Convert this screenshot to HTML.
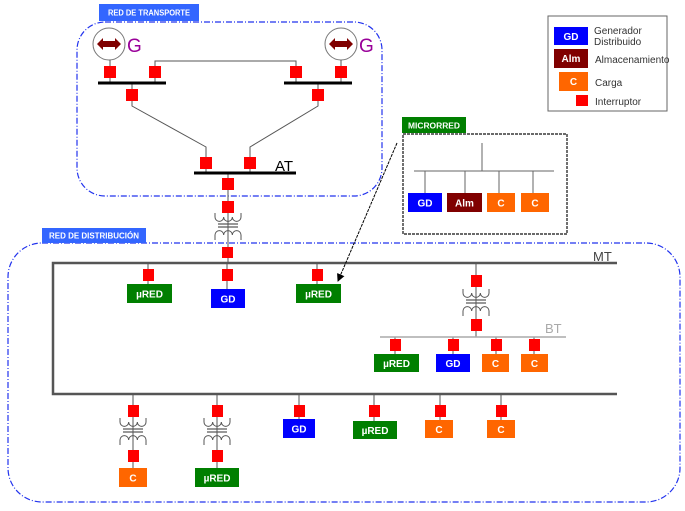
<!DOCTYPE html>
<html><head><meta charset="utf-8"><style>
html,body{margin:0;padding:0;background:#fff;}
svg{display:block;}
text{font-family:"Liberation Sans",sans-serif;}
.bx{font-size:10px;fill:#fff;text-anchor:middle;font-weight:bold;}
.lb{font-size:8px;fill:#fff;font-weight:bold;}
.lg{font-size:10px;fill:#333;}
</style></head><body>
<svg width="685" height="511" viewBox="0 0 685 511" xmlns="http://www.w3.org/2000/svg">
<defs>
<g id="tr" fill="none" stroke="#555" stroke-width="1">
  <path d="M-13,0 v4 a4.33,4.33 0 0 0 8.67,0 a4.33,4.33 0 0 0 8.67,0 a4.33,4.33 0 0 0 8.67,0 v-4"/>
  <line x1="-10" y1="11" x2="10" y2="11" stroke="#777" stroke-width="1.5"/>
  <line x1="-10" y1="14" x2="10" y2="14" stroke="#777" stroke-width="1.5"/>
  <path d="M-13,27 v-5 a4.33,4.33 0 0 1 8.67,0 a4.33,4.33 0 0 1 8.67,0 a4.33,4.33 0 0 1 8.67,0 v5"/>
  <line x1="0" y1="0" x2="0" y2="27"/>
</g>
<marker id="ar" markerWidth="8" markerHeight="8" refX="7" refY="4" orient="auto"><path d="M0,0 L8,4 L0,8 z" fill="#000"/></marker>
</defs>

<!-- legend -->
<rect x="548" y="16" width="119" height="95" fill="#fff" stroke="#666"/>
<rect x="554" y="27" width="34" height="18" fill="#0000ff"/><text x="571" y="40" class="bx">GD</text>
<text x="594" y="34" class="lg">Generador</text><text x="594" y="45" class="lg">Distribuido</text>
<rect x="554" y="49" width="34" height="19" fill="#800000"/><text x="571" y="62" class="bx">Alm</text>
<text x="595" y="63" class="lg">Almacenamiento</text>
<rect x="559" y="72" width="29" height="19" fill="#ff6600"/><text x="573.5" y="85" class="bx">C</text>
<text x="595" y="86" class="lg">Carga</text>
<text x="595" y="105" class="lg">Interruptor</text>

<!-- Transport box -->
<rect x="77" y="22" width="305" height="174" rx="28" fill="none" stroke="#2233ee" stroke-width="1.2" stroke-dasharray="6,2,1,2"/>
<rect x="99" y="4" width="100" height="17" fill="#3366ff"/>
<text x="108" y="15.5" class="lb" textLength="82" lengthAdjust="spacingAndGlyphs">RED DE TRANSPORTE</text>

<!-- generators -->
<circle cx="109" cy="44" r="16" fill="#fff" stroke="#777"/>
<path d="M97,44 l6,-6 v3 h12 v-3 l6,6 l-6,6 v-3 h-12 v3 z" fill="#800000"/>
<circle cx="341" cy="44" r="16" fill="#fff" stroke="#777"/>
<path d="M329,44 l6,-6 v3 h12 v-3 l6,6 l-6,6 v-3 h-12 v3 z" fill="#800000"/>
<text x="127" y="52" font-size="19" fill="#990099">G</text>
<text x="359" y="52" font-size="19" fill="#990099">G</text>

<g stroke="#555" stroke-width="1" fill="none">
<line x1="110" y1="60" x2="110" y2="83"/>
<line x1="341" y1="60" x2="341" y2="83"/>
<polyline points="155,83 155,61 296,61 296,83"/>
<polyline points="132,83 132,106 206,147 206,173"/>
<polyline points="318,83 318,106 250,147 250,173"/>
<line x1="228" y1="173" x2="228" y2="263"/>
<line x1="148" y1="263" x2="148" y2="284"/>
<line x1="317" y1="263" x2="317" y2="284"/>
<line x1="227" y1="263" x2="227" y2="289"/>
<line x1="476" y1="263" x2="476" y2="337"/>
<line x1="395" y1="337" x2="395" y2="354"/>
<line x1="453" y1="337" x2="453" y2="354"/>
<line x1="496" y1="337" x2="496" y2="354"/>
<line x1="534" y1="337" x2="534" y2="354"/>
<line x1="133" y1="394" x2="133" y2="468"/>
<line x1="217" y1="394" x2="217" y2="468"/>
<line x1="299" y1="394" x2="299" y2="419"/>
<line x1="374" y1="394" x2="374" y2="421"/>
<line x1="440" y1="394" x2="440" y2="420"/>
<line x1="501" y1="394" x2="501" y2="420"/>
</g>
<line x1="98" y1="83" x2="166" y2="83" stroke="#000" stroke-width="3"/>
<line x1="284" y1="83" x2="352" y2="83" stroke="#000" stroke-width="3"/>
<line x1="194" y1="173" x2="296" y2="173" stroke="#000" stroke-width="3"/>
<text x="275" y="171" font-size="15" fill="#000">AT</text>

<!-- transformers -->
<use href="#tr" x="228" y="213"/>
<use href="#tr" x="476" y="289"/>
<use href="#tr" x="133" y="418"/>
<use href="#tr" x="217" y="418"/>

<!-- Distribution box -->
<rect x="8" y="243" width="672" height="259" rx="34" fill="none" stroke="#2233ee" stroke-width="1.2" stroke-dasharray="6,2,1,2"/>
<rect x="42" y="228" width="104" height="15" fill="#3366ff"/>
<text x="49" y="238.5" class="lb" textLength="90" lengthAdjust="spacingAndGlyphs">RED DE DISTRIBUCIÓN</text>

<!-- MT -->
<polyline points="617,263 53,263 53,394 617,394" fill="none" stroke="#555" stroke-width="2.5"/>
<text x="593" y="261" font-size="13" fill="#444">MT</text>
<line x1="380" y1="337" x2="566" y2="337" stroke="#aaa" stroke-width="1.5"/>
<text x="545" y="333" font-size="13" fill="#aaa">BT</text>

<!-- breakers -->
<g fill="#ff0000">
<rect x="104" y="66" width="12" height="12"/>
<rect x="149" y="66" width="12" height="12"/>
<rect x="290" y="66" width="12" height="12"/>
<rect x="335" y="66" width="12" height="12"/>
<rect x="126" y="89" width="12" height="12"/>
<rect x="312" y="89" width="12" height="12"/>
<rect x="200" y="157" width="12" height="12"/>
<rect x="244" y="157" width="12" height="12"/>
<rect x="222" y="178" width="12" height="12"/>
<rect x="222" y="201" width="12" height="12"/>
<rect x="222" y="247" width="11" height="11"/>
<rect x="143" y="269" width="11" height="12"/>
<rect x="222" y="269" width="11" height="12"/>
<rect x="312" y="269" width="11" height="12"/>
<rect x="471" y="275" width="11" height="12"/>
<rect x="471" y="319" width="11" height="12"/>
<rect x="390" y="339" width="11" height="12"/>
<rect x="448" y="339" width="11" height="12"/>
<rect x="491" y="339" width="11" height="12"/>
<rect x="529" y="339" width="11" height="12"/>
<rect x="128" y="405" width="11" height="12"/>
<rect x="212" y="405" width="11" height="12"/>
<rect x="294" y="405" width="11" height="12"/>
<rect x="369" y="405" width="11" height="12"/>
<rect x="435" y="405" width="11" height="12"/>
<rect x="496" y="405" width="11" height="12"/>
<rect x="128" y="450" width="11" height="12"/>
<rect x="212" y="450" width="11" height="12"/>
<rect x="576" y="95" width="12" height="11"/>
</g>

<!-- boxes -->
<g>
<rect x="127" y="284" width="45" height="19" fill="#007f00"/><text x="149.5" y="297.5" class="bx">µRED</text>
<rect x="211" y="289" width="34" height="19" fill="#0000ff"/><text x="228" y="302.5" class="bx">GD</text>
<rect x="296" y="284" width="45" height="19" fill="#007f00"/><text x="318.5" y="297.5" class="bx">µRED</text>
<rect x="374" y="354" width="45" height="18" fill="#007f00"/><text x="396.5" y="367" class="bx">µRED</text>
<rect x="436" y="354" width="34" height="18" fill="#0000ff"/><text x="453" y="367" class="bx">GD</text>
<rect x="482" y="354" width="27" height="18" fill="#ff6600"/><text x="495.5" y="367" class="bx">C</text>
<rect x="521" y="354" width="27" height="18" fill="#ff6600"/><text x="534.5" y="367" class="bx">C</text>
<rect x="119" y="468" width="28" height="19" fill="#ff6600"/><text x="133" y="481.5" class="bx">C</text>
<rect x="195" y="468" width="44" height="19" fill="#007f00"/><text x="217" y="481.5" class="bx">µRED</text>
<rect x="283" y="419" width="32" height="19" fill="#0000ff"/><text x="299" y="432.5" class="bx">GD</text>
<rect x="353" y="421" width="44" height="18" fill="#007f00"/><text x="375" y="434" class="bx">µRED</text>
<rect x="425" y="420" width="28" height="18" fill="#ff6600"/><text x="439" y="433" class="bx">C</text>
<rect x="487" y="420" width="28" height="18" fill="#ff6600"/><text x="501" y="433" class="bx">C</text>
</g>

<!-- microrred -->
<rect x="402" y="117" width="64" height="16" fill="#007f00"/>
<text x="408" y="128.5" class="lb" textLength="52" lengthAdjust="spacingAndGlyphs">MICRORRED</text>
<rect x="403" y="134" width="164" height="100" fill="none" stroke="#111" stroke-width="1.2" stroke-dasharray="3,1"/>
<g stroke="#666" stroke-width="1">
<line x1="482" y1="143" x2="482" y2="171"/>
<line x1="414" y1="171" x2="554" y2="171"/>
<line x1="425" y1="171" x2="425" y2="193"/>
<line x1="465" y1="171" x2="465" y2="193"/>
<line x1="499" y1="171" x2="499" y2="193"/>
<line x1="533" y1="171" x2="533" y2="193"/>
</g>
<rect x="408" y="193" width="34" height="19" fill="#0000ff"/><text x="425" y="206.5" class="bx">GD</text>
<rect x="447" y="193" width="35" height="19" fill="#800000"/><text x="464.5" y="206.5" class="bx">Alm</text>
<rect x="487" y="193" width="28" height="19" fill="#ff6600"/><text x="501" y="206.5" class="bx">C</text>
<rect x="521" y="193" width="28" height="19" fill="#ff6600"/><text x="535" y="206.5" class="bx">C</text>

<line x1="397" y1="143" x2="338" y2="281" stroke="#000" stroke-width="1" stroke-dasharray="3,1" marker-end="url(#ar)"/>
</svg>
</body></html>
